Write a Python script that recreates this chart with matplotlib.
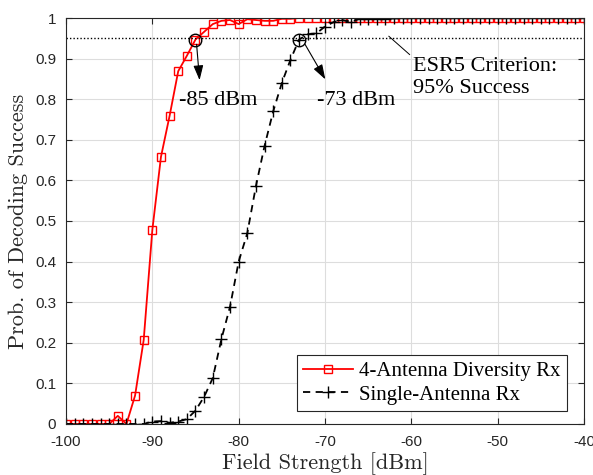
import numpy as np
import matplotlib
matplotlib.use("Agg")
import matplotlib.pyplot as plt

# field strength grid (dBm), 1 dB steps
field_dbm = np.arange(-100, -39, 1)

# 4-antenna diversity receiver
diversity_prob = [
    0, 0, 0, 0, 0, 0, 0.02, 0, 0.07, 0.207,            # -100 .. -91
    0.478, 0.658, 0.759, 0.869, 0.907, 0.947, 0.966, 0.985, 0.993, 0.995,  # -90 .. -81
    0.985, 0.997, 0.995, 0.993, 0.993, 0.998, 0.998, 1.0, 1.0, 1.0,       # -80 .. -71
    1.0, 1.0, 1.0, 1.0, 1.0, 1.0, 1.0, 1.0, 1.0, 1.0,                   # -70 .. -61
    1.0, 1.0, 1.0, 1.0, 1.0, 1.0, 1.0, 1.0, 1.0, 1.0,                   # -60 .. -51
    1.0, 1.0, 1.0, 1.0, 1.0, 1.0, 1.0, 1.0, 1.0, 1.0,                   # -50 .. -41
    1.0,                                                                # -40
]

# single-antenna receiver
single_prob = [
    0, 0, 0, 0, 0, 0, 0, 0, 0, 0,                                        # -100 .. -91
    0.006, 0.007, 0.003, 0.006, 0.012, 0.033, 0.067, 0.113, 0.209, 0.289,  # -90 .. -81
    0.40, 0.47, 0.586, 0.685, 0.77, 0.84, 0.897, 0.947, 0.96, 0.962,      # -80 .. -71
    0.979, 0.99, 0.995, 0.99, 0.998, 0.997, 0.998, 0.998, 0.999, 0.999,   # -70 .. -61
    1.0, 1.0, 1.0, 1.0, 1.0, 1.0, 1.0, 1.0, 1.0, 1.0,                   # -60 .. -51
    1.0, 1.0, 1.0, 1.0, 1.0, 1.0, 1.0, 1.0, 1.0, 1.0,                   # -50 .. -41
    1.0,                                                                # -40
]

criterion = 0.95
marked_points = [(-85, 0.947), (-73, 0.947)]

serif = ["Liberation Serif", "DejaVu Serif"]
plt.rcParams["font.family"] = ["Liberation Sans", "DejaVu Sans"]
plt.rcParams["axes.unicode_minus"] = False

fig = plt.figure(figsize=(5.93, 4.75), dpi=100)
ax = fig.add_axes([0.1113, 0.1074, 0.8735, 0.8547])

ax.plot(field_dbm, diversity_prob, "-s", color="#ff0000", lw=1.3, ms=5.5,
        mfc="none", mew=1.0, label="4-Antenna Diversity Rx")
ax.plot(field_dbm, single_prob, "--+", color="black", lw=1.3, ms=8,
        mew=1.0, dashes=(4, 3), label="Single-Antenna Rx")

ax.axhline(criterion, color="black", ls=(0, (1, 1.5)), lw=1.0)

for x, y in marked_points:
    ax.plot(x, y, "o", ms=9, mfc="none", mec="black", mew=1.0)

ax.annotate("", xy=(-84.5, 0.84), xytext=(-84.9, 0.942),
            arrowprops=dict(arrowstyle="-|>,head_length=0.9,head_width=0.3",
                            color="black", lw=0.8))
ax.text(-86.9, 0.798, "-85 dBm", fontsize=16, family=serif, va="center")

ax.annotate("", xy=(-69.8, 0.843), xytext=(-72.5, 0.942),
            arrowprops=dict(arrowstyle="-|>,head_length=0.9,head_width=0.3",
                            color="black", lw=0.8))
ax.text(-70.9, 0.798, "-73 dBm", fontsize=16, family=serif, va="center")

ax.plot([-62.6, -60.2], [0.955, 0.91], color="black", lw=0.7)
ax.text(-59.8, 0.853, "ESR5 Criterion:\n95% Success", fontsize=16,
        family=serif, va="center", linespacing=1.25)

ax.set_xlim(-100, -40)
ax.set_ylim(0, 1)
ax.set_xticks(np.arange(-100, -39, 10))
ax.set_yticks(np.arange(0, 1.01, 0.1))
ax.set_yticklabels(["0", "0.1", "0.2", "0.3", "0.4", "0.5", "0.6", "0.7",
                    "0.8", "0.9", "1"])
ax.tick_params(direction="in", labelsize=11, colors="#262626", length=4,
               top=True, right=True)
ax.tick_params(axis="x", pad=8)
ax.tick_params(axis="y", pad=7)
ax.grid(True, color="#dddddd", lw=0.8)
ax.set_axisbelow(True)
for s in ax.spines.values():
    s.set_color("#262626")
    s.set_linewidth(0.8)

ax.set_xlabel("Field Strength [dBm]", fontsize=16, family="cmr10",
              color="#262626", labelpad=2)
ax.set_ylabel("Prob. of Decoding Success", fontsize=16, family="cmr10",
              color="#262626", labelpad=5)

leg = ax.legend(loc="lower right", bbox_to_anchor=(0.967, 0.032),
                borderaxespad=0, prop={"family": serif, "size": 15},
                fancybox=False, edgecolor="#262626", framealpha=1,
                handlelength=2.4, borderpad=0.3, labelspacing=0.2,
                handletextpad=0.3)
leg.get_frame().set_linewidth(0.8)

fig.savefig("out.png", dpi=100)
